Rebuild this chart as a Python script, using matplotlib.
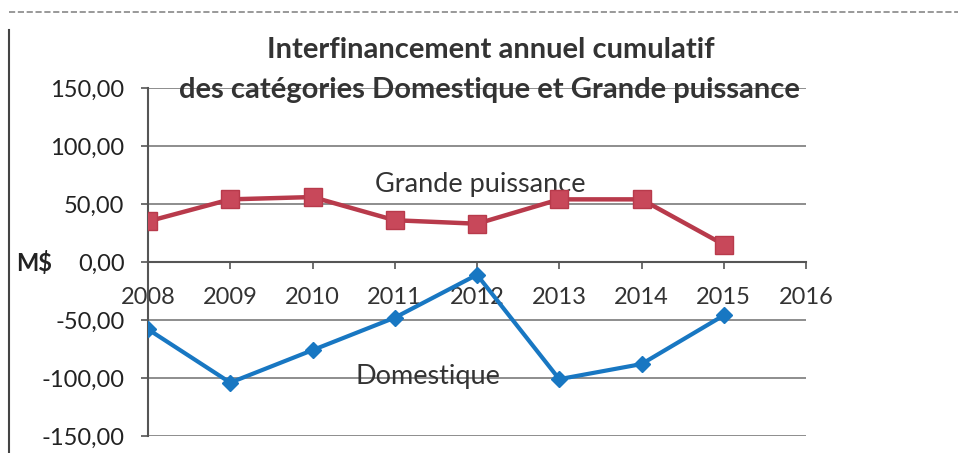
import matplotlib.pyplot as plt
from matplotlib.lines import Line2D

years = [2008, 2009, 2010, 2011, 2012, 2013, 2014, 2015]
grande_puissance = [35, 54, 56, 36, 33, 54, 54, 15]
domestique = [-58, -104, -76, -48, -11, -101, -88, -46]
y_ticks = [-150, -100, -50, 0, 50, 100, 150]
x_ticks = [2008, 2009, 2010, 2011, 2012, 2013, 2014, 2015, 2016]

plt.rcParams['font.family'] = ['Lato', 'DejaVu Sans']

fig = plt.figure(figsize=(9.58, 4.53), dpi=100)
ax = fig.add_axes([148 / 958, 1 - 436 / 453, (806 - 148) / 958, (436 - 88) / 453])

# grille horizontale
for y in y_ticks:
    if y != 0:
        ax.axhline(y, color='#7a7a7a', lw=1.2, zorder=1)

ax.plot(years, grande_puissance, color='#b83a4b', lw=3.2, marker='s',
        markersize=13, markerfacecolor='#c8485a', markeredgecolor='#b83a4b', zorder=5)
ax.plot(years, domestique, color='#1877c2', lw=3, marker='D',
        markersize=8.5, markerfacecolor='#1877c2', markeredgecolor='#1877c2', zorder=5)

ax.set_xlim(2008, 2016)
ax.set_ylim(-150, 150)

for s in ['top', 'right']:
    ax.spines[s].set_visible(False)
ax.spines['bottom'].set_position(('data', 0))
ax.spines['bottom'].set_color('#555555')
ax.spines['bottom'].set_linewidth(1.5)
ax.spines['left'].set_color('#555555')
ax.spines['left'].set_linewidth(1.5)

ax.set_xticks(x_ticks)
ax.set_xticklabels([str(x) for x in x_ticks])
ax.set_yticks(y_ticks)
ax.set_yticklabels([f'{v:.2f}'.replace('.', ',') for v in y_ticks])
ax.tick_params(axis='x', direction='out', length=5, width=1.2, color='#555555',
               pad=13, labelsize=17, labelcolor='#333333')
ax.tick_params(axis='y', direction='out', length=5, width=1.2, color='#555555',
               pad=12, labelsize=17, labelcolor='#222222')

ax.text(2012.04, 67, 'Grande puissance', fontsize=19.5, color='#333333', ha='center', va='center')
ax.text(2011.4, -99, 'Domestique', fontsize=19.5, color='#333333', ha='center', va='center')

fig.text(491 / 958, 1 - 50 / 453, 'Interfinancement annuel cumulatif', fontsize=21,
         fontweight='bold', color='#333333', ha='center', va='center')
fig.text(489 / 958, 1 - 90 / 453, 'des catégories Domestique et Grande puissance', fontsize=21,
         fontweight='bold', color='#333333', ha='center', va='center')
fig.text(34 / 958, 1 - 263 / 453, 'M$', fontsize=17, fontweight='bold', color='#222222',
         ha='center', va='center')

# cadre
fig.add_artist(Line2D([9 / 958, 9 / 958], [0, 1 - 30 / 453], color='#444444', lw=1.5))
fig.add_artist(Line2D([9 / 958, 1], [1 - 12 / 453, 1 - 12 / 453], color='#888888', lw=1.2, ls='--'))

fig.savefig('out.png', dpi=100)
